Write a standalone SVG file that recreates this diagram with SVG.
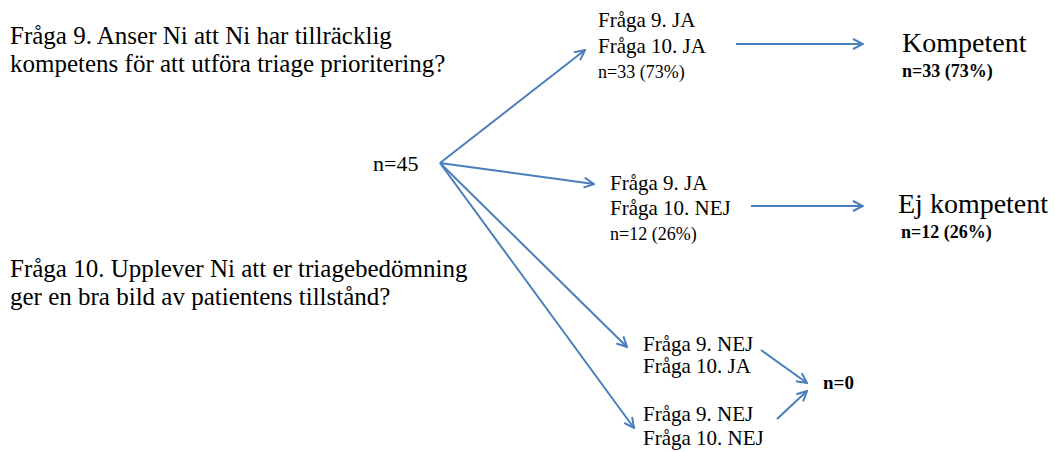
<svg xmlns="http://www.w3.org/2000/svg" width="1055" height="452" viewBox="0 0 1055 452">
<style>
.q{font-size:25px}
.b{font-size:21px}
.r{font-size:22px}
.s{font-size:18px}
.k{font-size:28px}
.kb{font-size:18px;font-weight:bold}
.n0{font-size:19px;font-weight:bold}
.c line{stroke:#4a7ebb;stroke-width:2;fill:none}
</style>
<defs>
<marker id="ah" viewBox="0 0 12 12" refX="11" refY="6" markerWidth="12" markerHeight="12" markerUnits="userSpaceOnUse" orient="auto">
<path d="M1,1 L11,6 L1,11" fill="none" stroke="#4a7ebb" stroke-width="2"/>
</marker>
</defs>
<rect width="1055" height="452" fill="#fff"/>
<g font-family="Liberation Serif" fill="#000">
<g id="q9">
<text class="q" x="10" y="44">Fråga 9. Anser Ni att Ni har tillräcklig</text>
<text class="q" x="10" y="72">kompetens för att utföra triage prioritering?</text>
</g>
<g id="q10">
<text class="q" x="10" y="277">Fråga 10. Upplever Ni att er triagebedömning</text>
<text class="q" x="10" y="305">ger en bra bild av patientens tillstånd?</text>
</g>
<g id="root"><text class="r" x="373" y="171">n=45</text></g>
<g id="jaja">
<text class="b" x="598" y="27">Fråga 9. JA</text>
<text class="b" x="598" y="53">Fråga 10. JA</text>
<text class="s" x="598" y="78">n=33 (73%)</text>
</g>
<g id="janej">
<text class="b" x="610" y="190">Fråga 9. JA</text>
<text class="b" x="610" y="215">Fråga 10. NEJ</text>
<text class="s" x="610" y="240">n=12 (26%)</text>
</g>
<g id="nejja">
<text class="b" x="643" y="351">Fråga 9. NEJ</text>
<text class="b" x="643" y="373">Fråga 10. JA</text>
</g>
<g id="nejnej">
<text class="b" x="643" y="421">Fråga 9. NEJ</text>
<text class="b" x="643" y="445">Fråga 10. NEJ</text>
</g>
<g id="kompetent">
<text class="k" x="902" y="52">Kompetent</text>
<text class="kb" x="902" y="77">n=33 (73%)</text>
</g>
<g id="ejkompetent">
<text class="k" x="898" y="213">Ej kompetent</text>
<text class="kb" x="901" y="238">n=12 (26%)</text>
</g>
<g id="n0"><text class="n0" x="823" y="389">n=0</text></g>
</g>
<g class="c" id="connectors">
<line x1="440" y1="163" x2="585" y2="50" marker-end="url(#ah)"/>
<line x1="440" y1="163" x2="594" y2="184" marker-end="url(#ah)"/>
<line x1="440" y1="163" x2="627" y2="347" marker-end="url(#ah)"/>
<line x1="440" y1="163" x2="634" y2="428" marker-end="url(#ah)"/>
<line x1="736" y1="44" x2="863" y2="44" marker-end="url(#ah)"/>
<line x1="751" y1="206" x2="863" y2="206" marker-end="url(#ah)"/>
<line x1="761" y1="350" x2="807" y2="383" marker-end="url(#ah)"/>
<line x1="777" y1="419" x2="807" y2="391" marker-end="url(#ah)"/>
</g>
</svg>
